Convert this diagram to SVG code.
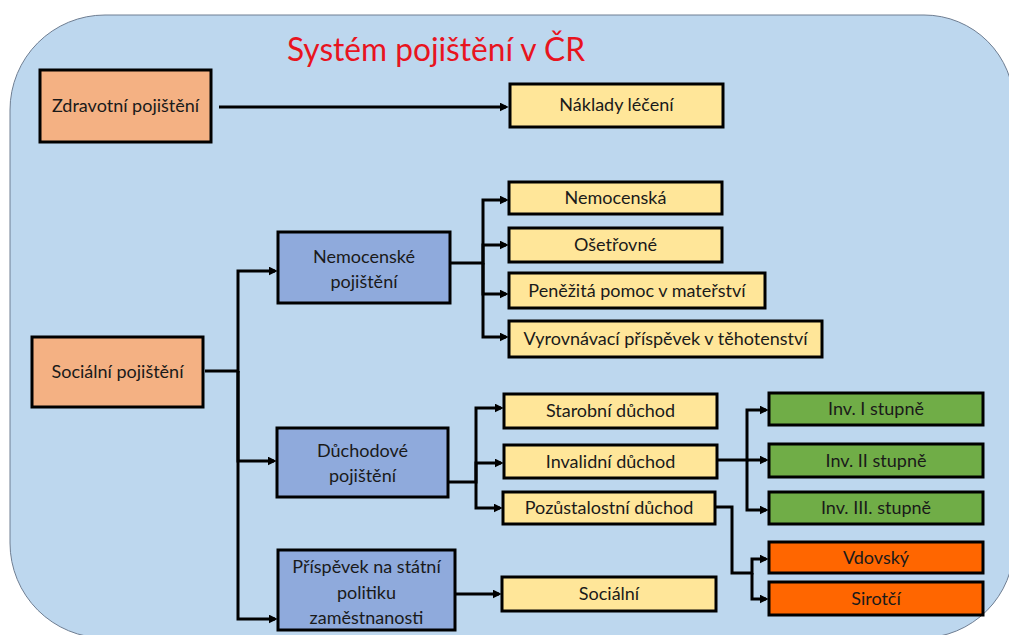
<svg xmlns="http://www.w3.org/2000/svg" width="1009" height="635" viewBox="0 0 1009 635">
<style>
text{font-family:Lato,"Noto Sans","Liberation Sans",sans-serif;font-size:18px;fill:#1a1a1a;text-anchor:middle}
.title{font-size:33px;fill:#E8141E;text-anchor:start}
.b{stroke:#000;stroke-width:3}
.or{fill:#F4B183}
.bl{fill:#8FAADC}
.ye{fill:#FFE699}
.gr{fill:#70AD47}
.rd{fill:#FF6600}
.c path{fill:none;stroke:#000;stroke-width:3;marker-end:url(#ah)}
</style>
<defs>
<marker id="ah" viewBox="0 0 10 10" refX="7" refY="5" markerWidth="3" markerHeight="3" orient="auto" markerUnits="strokeWidth">
<path d="M0,0 L10,5 L0,10 z" fill="#000"/>
</marker>
</defs>
<path id="bg" d="M105,15 H924 A90,90 0 0 1 1014,105 V545 A93,93 0 0 1 921,638 H105 A95,95 0 0 1 10,543 V110 A95,95 0 0 1 105,15 Z" fill="#BDD7EE" stroke="#6F7E92" stroke-width="1"/>
<text class="title" x="287" y="61" textLength="298" lengthAdjust="spacingAndGlyphs">Systém pojištění v ČR</text>

<g class="c">
<path d="M219,107 H506"/>
<path d="M205,371 H238 V271 H275"/>
<path d="M238,371 V461 H274"/>
<path d="M238,371 V619 H275"/>
<path d="M450,263 H483 V200 H506"/>
<path d="M483,263 V245 H506"/>
<path d="M483,263 V294 H506"/>
<path d="M483,263 V337 H506"/>
<path d="M448,482 H476 V408 H501"/>
<path d="M476,482 V463 H501"/>
<path d="M476,482 V508 H500"/>
<path d="M717,460 H747 V410 H766"/>
<path d="M747,460 H766"/>
<path d="M747,460 V510 H766"/>
<path d="M715,507 H732 V573 H752 V559 H766"/>
<path d="M752,573 V599 H766"/>
<path d="M455,594 H499"/>
</g>

<g id="zdravotni"><rect class="b or" x="40" y="70" width="171" height="72"/><text x="125.5" y="112">Zdravotní pojištění</text></g>
<g id="naklady"><rect class="b ye" x="510" y="84" width="213" height="43"/><text x="616.5" y="111">Náklady léčení</text></g>
<g id="socialni-poj"><rect class="b or" x="32" y="337" width="171" height="70"/><text x="117.5" y="378">Sociální pojištění</text></g>
<g id="nemocenske"><rect class="b bl" x="278" y="232" width="172" height="71"/><text x="364" y="263">Nemocenské</text><text x="364" y="288">pojištění</text></g>
<g id="duchodove"><rect class="b bl" x="277" y="428" width="171" height="69"/><text x="362.5" y="457">Důchodové</text><text x="362.5" y="482">pojištění</text></g>
<g id="prispevek"><rect class="b bl" x="278" y="550" width="177" height="80"/><text x="366.5" y="573">Příspěvek na státní</text><text x="366.5" y="599">politiku</text><text x="366.5" y="624">zaměstnanosti</text></g>
<g id="nemocenska"><rect class="b ye" x="509" y="182" width="213" height="32"/><text x="615.5" y="204">Nemocenská</text></g>
<g id="osetrovne"><rect class="b ye" x="509" y="228" width="213" height="34"/><text x="615.5" y="251">Ošetřovné</text></g>
<g id="penezita"><rect class="b ye" x="509" y="273" width="256" height="35"/><text x="637" y="297">Peněžitá pomoc v mateřství</text></g>
<g id="vyrovnavaci"><rect class="b ye" x="509" y="321" width="313" height="36"/><text x="665.5" y="345">Vyrovnávací příspěvek v těhotenství</text></g>
<g id="starobni"><rect class="b ye" x="504" y="394" width="213" height="34"/><text x="610.5" y="417">Starobní důchod</text></g>
<g id="invalidni"><rect class="b ye" x="504" y="445" width="213" height="33"/><text x="610.5" y="468">Invalidní důchod</text></g>
<g id="pozustalostni"><rect class="b ye" x="503" y="492" width="212" height="32"/><text x="609" y="514">Pozůstalostní důchod</text></g>
<g id="socialni"><rect class="b ye" x="502" y="577" width="214" height="34"/><text x="609" y="600">Sociální</text></g>
<g id="inv1"><rect class="b gr" x="769" y="393" width="214" height="32"/><text x="876" y="415">Inv. I stupně</text></g>
<g id="inv2"><rect class="b gr" x="769" y="444" width="214" height="33"/><text x="876" y="467">Inv. II stupně</text></g>
<g id="inv3"><rect class="b gr" x="769" y="492" width="214" height="32"/><text x="876" y="514">Inv. III. stupně</text></g>
<g id="vdovsky"><rect class="b rd" x="769" y="542" width="214" height="31"/><text x="876" y="564">Vdovský</text></g>
<g id="sirotci"><rect class="b rd" x="769" y="582" width="214" height="33"/><text x="876" y="605">Sirotčí</text></g>
</svg>
